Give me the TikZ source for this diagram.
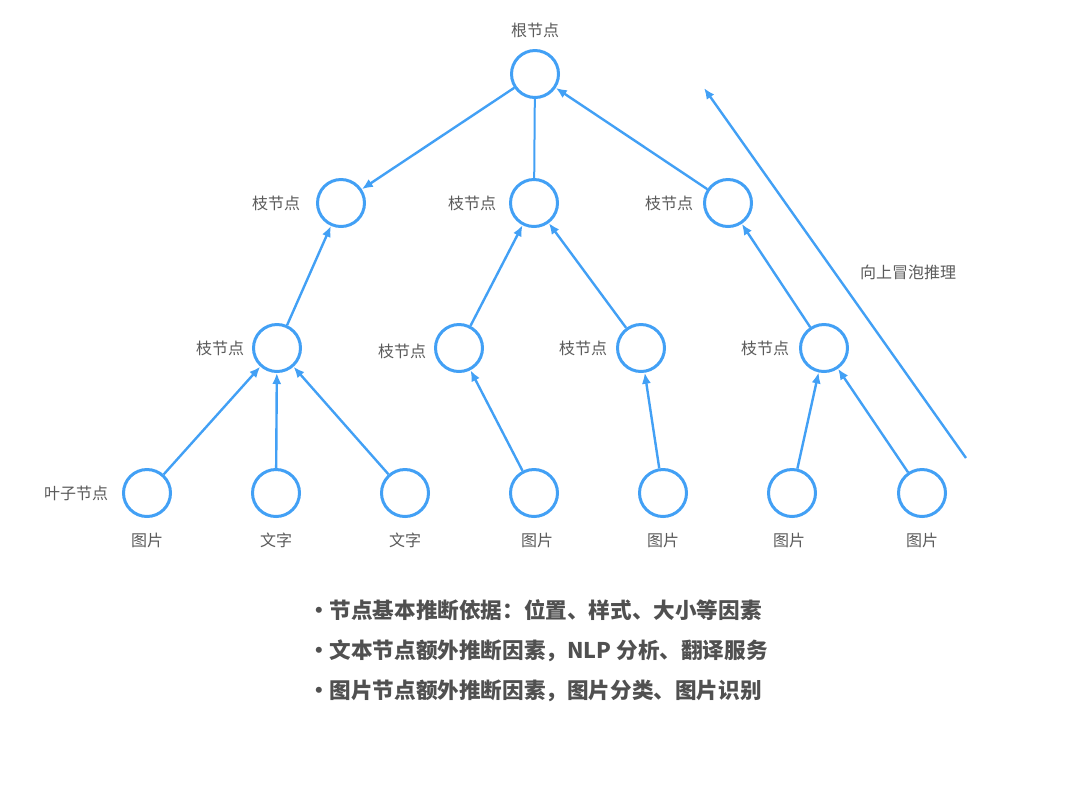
\documentclass[tikz,border=0pt]{standalone}
\usepackage{fontspec}
\setmainfont{Noto Sans CJK SC}
\usepackage{tikz}
\usetikzlibrary{arrows.meta}
\definecolor{treeblue}{RGB}{66,160,245}
\definecolor{labelgray}{RGB}{90,90,90}
\definecolor{textgray}{RGB}{80,80,80}

\begin{document}
\begin{tikzpicture}[x=0.5pt,y=-0.5pt,>={Latex[length=5.5pt,width=4.6pt]},
  tree node/.style={circle,draw=treeblue,line width=1.5pt,minimum size=23.5pt,inner sep=0pt},
  tag/.style={text=labelgray,font=\fontsize{8}{9}\selectfont},
  point/.style={text=textgray,font=\bfseries\fontsize{10.8}{12}\selectfont,anchor=west},
  edge/.style={draw=treeblue,line width=1.2pt}]
\useasboundingbox (0,0) rectangle (1080,789);
% tree
\node[tree node] at (535,74) (root) {};
\node[tree node] at (341,203) (b1) {};
\node[tree node] at (534,203) (b2) {};
\node[tree node] at (728,203) (b3) {};
\node[tree node] at (277,348) (c1) {};
\node[tree node] at (459,348) (c2) {};
\node[tree node] at (641,348) (c3) {};
\node[tree node] at (824,348) (c4) {};
\node[tree node] at (147,493) (leafA) {};
\node[tree node] at (276,493) (leafB) {};
\node[tree node] at (405,493) (leafC) {};
\node[tree node] at (534,493) (leafD) {};
\node[tree node] at (663,493) (leafE) {};
\node[tree node] at (792,493) (leafF) {};
\node[tree node] at (922,493) (leafG) {};
% labels
\node[tag] at (535,30) (root label) {根节点};
\node[tag] at (276,203) (b1 label) {枝节点};
\node[tag] at (472,203) (b2 label) {枝节点};
\node[tag] at (669,203) (b3 label) {枝节点};
\node[tag] at (220,348) (c1 label) {枝节点};
\node[tag] at (402,351) (c2 label) {枝节点};
\node[tag] at (583,348) (c3 label) {枝节点};
\node[tag] at (765,348) (c4 label) {枝节点};
\node[tag] at (76,493) (leaf label) {叶子节点};
\node[tag] at (147,540) (leafA label) {图片};
\node[tag] at (276,540) (leafB label) {文字};
\node[tag] at (405,540) (leafC label) {文字};
\node[tag] at (537,540) (leafD label) {图片};
\node[tag] at (663,540) (leafE label) {图片};
\node[tag] at (789,540) (leafF label) {图片};
\node[tag] at (922,540) (leafG label) {图片};
\node[tag] at (908,272) (bubble label) {向上冒泡推理};
% edges
\draw[edge,->] (root) -- (b1);
\draw[edge,line width=1pt] (root) -- (b2);
\draw[edge,->] (b3) -- (root);
\draw[edge,->] (c1) -- (b1);
\draw[edge,->] (c2) -- (b2);
\draw[edge,->] (c3) -- (b2);
\draw[edge,->] (c4) -- (b3);
\draw[edge,->] (leafA) -- (c1);
\draw[edge,->] (leafB) -- (c1);
\draw[edge,->] (leafC) -- (c1);
\draw[edge,->] (leafD) -- (c2);
\draw[edge,->] (leafE) -- (c3);
\draw[edge,->] (leafF) -- (c4);
\draw[edge,->] (leafG) -- (c4);
\coordinate (bubble start) at (966,458);
\coordinate (bubble end) at (704,88);
\draw[edge,->] (bubble start) -- (bubble end);
% notes
\node[point] at (301,610) (note one) {•节点基本推断依据：位置、样式、大小等因素};
\node[point] at (301,651) (note two) {•文本节点额外推断因素，NLP 分析、翻译服务};
\node[point] at (301,691) (note three) {•图片节点额外推断因素，图片分类、图片识别};
\end{tikzpicture}
\end{document}
